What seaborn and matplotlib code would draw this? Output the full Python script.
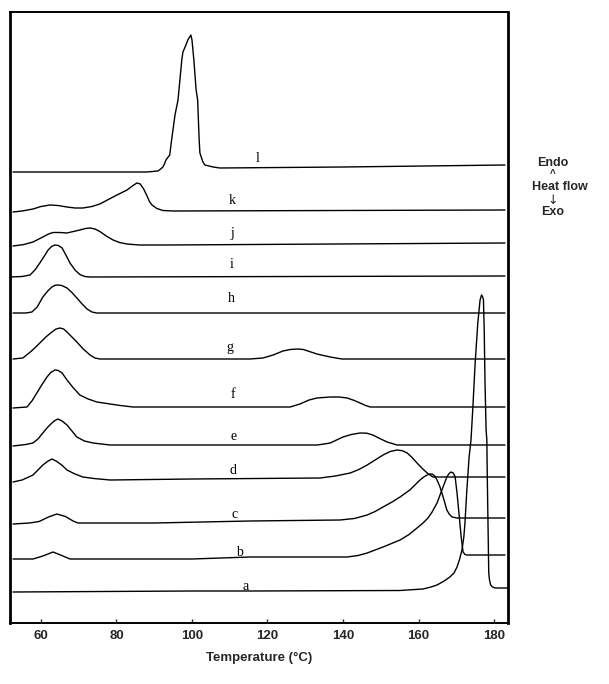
import numpy as np
import pandas as pd
import matplotlib
matplotlib.use("Agg")
import matplotlib.pyplot as plt
import seaborn as sns

# ---- data (temperature in degC, heat flow in arbitrary units) ----
l_T = [52.6, 88.0, 89.5, 91.0, 91.7, 92.3, 92.7, 93.1, 94.1, 94.6, 95.5, 96.3, 96.8, 97.3, 97.6,
       98.4, 98.9, 99.7, 100.0, 100.5, 101.1, 101.5, 101.9, 102.1, 102.9, 103.4, 105.6, 107.4,
       140.0, 182.9]
l_H = [512, 512, 512.5, 513, 515, 517, 520, 524, 529, 544, 569, 584, 604, 624, 632,
       639, 644, 649, 644, 624, 594, 584, 544, 531, 522, 519, 517, 516,
       517, 519]

k_T = [52.6, 55.0, 57.9, 60.0, 62.4, 64.5, 66.9, 69.0, 71.1, 73.5, 75.6, 77.6, 79.6, 81.2,
       82.8, 84.2, 85.4, 86.3, 87.2, 88.1, 88.8, 89.4, 90.7, 92.3, 95.0, 182.9]
k_H = [472, 473, 475, 477.5, 479, 478.5, 477, 476, 476, 477.5, 480, 484, 488, 491,
       494, 498, 501, 500, 495, 488, 482, 479, 475.5, 473.5, 473, 474]

j_T = [52.6, 55.5, 57.9, 60.5, 62.0, 63.2, 65.0, 66.9, 68.6, 70.3, 71.8, 73.0, 74.3, 75.6,
       77.3, 79.1, 80.8, 82.8, 86.0, 93.4, 182.9]
j_H = [438, 439.5, 442, 447, 450, 451.5, 451.5, 451, 452.5, 454, 455.5, 456, 455, 452.5,
       448, 444, 441.5, 440, 439, 439, 441]

i_T = [51.8, 55.0, 57.1, 58.4, 59.7, 60.9, 61.9, 62.8, 63.7, 64.6, 65.6, 66.6, 67.7, 69.0,
       70.3, 71.6, 73.0, 182.9]
i_H = [407, 407.5, 409, 414, 421, 428, 434, 437.5, 439, 438.5, 436, 429, 421, 414,
       409.5, 407.5, 407, 408]

h_T = [52.6, 56.0, 57.6, 59.0, 60.5, 61.8, 62.9, 63.7, 64.5, 65.5, 66.9, 68.2, 69.5, 70.9,
       72.2, 73.5, 74.8, 182.9]
h_H = [371, 371, 372, 377, 387, 393, 397, 398.7, 399, 398.5, 396, 391.5, 386, 380,
       375, 372, 371, 371]

g_T = [52.6, 55.2, 57.5, 59.7, 61.3, 62.9, 64.0, 65.0, 66.0, 66.9, 68.2, 69.5, 71.2, 73.0,
       74.3, 75.6, 115.4, 118.8, 121.5, 124.1, 126.0, 128.1, 129.5, 130.7, 133.1, 136.6,
       139.7, 182.9]
g_H = [325, 326, 333, 341, 347, 352, 355, 356, 355, 352, 347, 342, 335, 329,
       326, 325, 325, 326, 329, 333, 334.5, 335, 334.5, 333, 330, 327,
       325, 325]

f_T = [52.6, 56.3, 57.6, 58.9, 60.2, 61.6, 62.6, 63.7, 64.6, 65.6, 66.9, 68.6, 70.3, 72.5,
       74.8, 78.3, 81.0, 84.4, 126.0, 128.6, 131.0, 133.1, 136.6, 139.0, 141.1, 143.0,
       144.5, 146.0, 147.2, 182.9]
f_H = [276, 277, 283, 291, 299, 307, 311.5, 314, 313.5, 311, 304, 296, 289, 285,
       282, 280, 278.5, 277, 277, 280, 284, 286, 287, 287, 286, 283.5,
       281, 278.5, 277, 277]

e_T = [52.6, 56.0, 57.9, 59.2, 60.5, 61.7, 62.9, 63.7, 64.5, 65.6, 66.9, 68.2, 69.5, 71.5,
       73.8, 78.3, 115.4, 133.1, 135.0, 136.6, 138.3, 140.0, 142.2, 144.5, 146.3, 147.9,
       150.0, 151.7, 154.3, 182.9]
e_H = [238, 239.5, 241, 245, 251, 256.5, 261, 263.5, 265, 263, 259, 253, 247, 243,
       241, 239, 239, 239, 240, 241, 244, 247, 249.5, 251, 250.8, 249,
       245, 242, 239, 239]

d_T = [52.6, 55.0, 57.9, 59.2, 60.5, 61.7, 62.9, 64.0, 65.5, 66.9, 69.0, 71.1, 74.0, 78.3,
       100.0, 133.9, 138.0, 141.9, 144.2, 146.4, 148.5, 150.6, 152.5, 154.3, 155.7, 157.0,
       158.3, 159.6, 161.0, 162.3, 163.8, 182.9]
d_H = [202, 204, 209, 214, 219, 222.5, 225, 223, 219, 214, 210, 207, 205.5, 204,
       205, 206, 208, 211, 214.5, 219, 224, 229, 232.5, 234, 233.3, 231,
       226.5, 221, 215.5, 211, 207, 207]

c_T = [52.6, 57.0, 59.5, 62.0, 64.2, 66.5, 68.5, 69.8, 90.0, 115.4, 139.2, 143.0, 146.4,
       148.5, 150.6, 153.0, 155.1, 157.7, 160.4, 161.4, 162.3, 163.0, 163.6, 164.3, 164.9,
       165.6, 166.2, 166.9, 167.5, 168.2, 168.9, 170.2, 182.9]
c_H = [160, 161, 162.5, 167, 170, 167.5, 163, 161, 161, 163, 164, 165.5, 169,
       172.5, 177, 182, 187, 194, 204, 207, 209, 210, 210, 208, 204,
       198, 191, 182, 174, 169.5, 167, 166, 166]

b_T = [52.6, 57.9, 60.5, 63.2, 65.5, 67.7, 100.0, 115.4, 141.1, 144.0, 146.4, 150.6, 155.1,
       157.5, 159.6, 161.2, 162.5, 163.6, 164.9, 166.2, 167.5, 168.1, 168.6, 169.2, 169.7,
       170.2, 170.7, 171.3, 171.8, 172.3, 172.8, 182.9]
b_H = [125, 125, 128, 132, 128.5, 125, 125, 127, 127, 128.5, 131, 137, 144,
       149.5, 156, 161, 166, 172, 181, 194, 207, 210.5, 212, 211, 207,
       191, 171, 147, 132, 129.5, 129, 129]

a_T = [52.6, 100.0, 115.4, 155.0, 161.2, 163.3, 164.9, 166.8, 168.3, 169.4, 170.2, 170.9,
       171.5, 172.0, 172.3, 172.8, 173.4, 173.9, 174.4, 175.0, 175.7, 176.3, 176.7, 177.0,
       177.2, 177.4, 177.6, 177.9, 178.1, 178.2, 178.4, 178.6, 178.8, 179.1, 179.6, 180.3,
       183.5]
a_H = [92, 93, 93, 93.5, 95, 97, 99, 103, 107, 111, 117, 125,
       134, 147, 161, 194, 227, 244, 277, 321, 361, 384, 389, 387,
       384, 354, 304, 254, 244, 211, 161, 111, 104, 99, 97, 96,
       96]

curve_names = ["a", "b", "c", "d", "e", "f", "g", "h", "i", "j", "k", "l"]
curve_T = [a_T, b_T, c_T, d_T, e_T, f_T, g_T, h_T, i_T, j_T, k_T, l_T]
curve_H = [a_H, b_H, c_H, d_H, e_H, f_H, g_H, h_H, i_H, j_H, k_H, l_H]
# label anchor positions (temperature, heat flow)
label_T = [114.1, 112.5, 111.4, 110.9, 110.9, 110.9, 110.1, 110.3, 110.6, 110.6, 110.6, 117.5]
label_H = [98, 132, 170, 214, 247, 289, 337, 386, 419, 450, 484, 526]

x_ticks = [60, 80, 100, 120, 140, 160, 180]

# ---- build long-form table ----
frames = []
for name, T, H in zip(curve_names, curve_T, curve_H):
    frames.append(pd.DataFrame({"T": T, "H": H, "curve": name}))
df = pd.concat(frames, ignore_index=True)

sns.set_style("white")
plt.rcParams["font.family"] = ["Liberation Sans", "DejaVu Sans"]

fig = plt.figure(figsize=(6.09, 6.84), dpi=100)
ax = fig.add_axes([10 / 609, 1 - 623 / 684, 498 / 609, 611 / 684])

for name in curve_names:
    sub = df[df["curve"] == name]
    sns.lineplot(data=sub, x="T", y="H", ax=ax, color="black", linewidth=1.0,
                 estimator=None, sort=False, legend=False)

for name, tx, ty in zip(curve_names, label_T, label_H):
    ax.text(tx, ty, name, ha="center", va="center", fontsize=10,
            family=["Liberation Serif", "DejaVu Serif"], color="black")

ax.set_xlim(51.8, 183.7)
ax.set_ylim(61, 672)
ax.set_xticks(x_ticks)
ax.set_xticklabels([str(t) for t in x_ticks], fontweight="bold", fontsize=9.5)
ax.set_yticks([])
ax.tick_params(axis="x", direction="in", length=3, width=1, pad=5, bottom=True)
for side in ["left", "right", "top", "bottom"]:
    ax.spines[side].set_visible(True)
    ax.spines[side].set_color("black")
    ax.spines[side].set_linewidth(1.4)
ax.spines["left"].set_linewidth(2.0)
ax.spines["right"].set_linewidth(2.0)
ax.set_xlabel("Temperature (\u00b0C)", fontweight="bold", fontsize=9.5, labelpad=7)
ax.set_ylabel("")

# Endo / Heat flow / Exo annotation on the right
fig.text(553 / 609, 1 - 163 / 684, "Endo", ha="center", va="center", fontsize=9, fontweight="bold")
fig.text(553 / 609, 1 - 174 / 684, "^", ha="center", va="center", fontsize=7, fontweight="bold")
fig.text(560 / 609, 1 - 187 / 684, "Heat flow", ha="center", va="center", fontsize=9, fontweight="bold")
fig.text(553 / 609, 1 - 200 / 684, "\u2193", ha="center", va="center", fontsize=9,
         family=["DejaVu Sans"])
fig.text(553 / 609, 1 - 212 / 684, "Exo", ha="center", va="center", fontsize=9, fontweight="bold")

fig.savefig("out.png", dpi=100, facecolor="white")
